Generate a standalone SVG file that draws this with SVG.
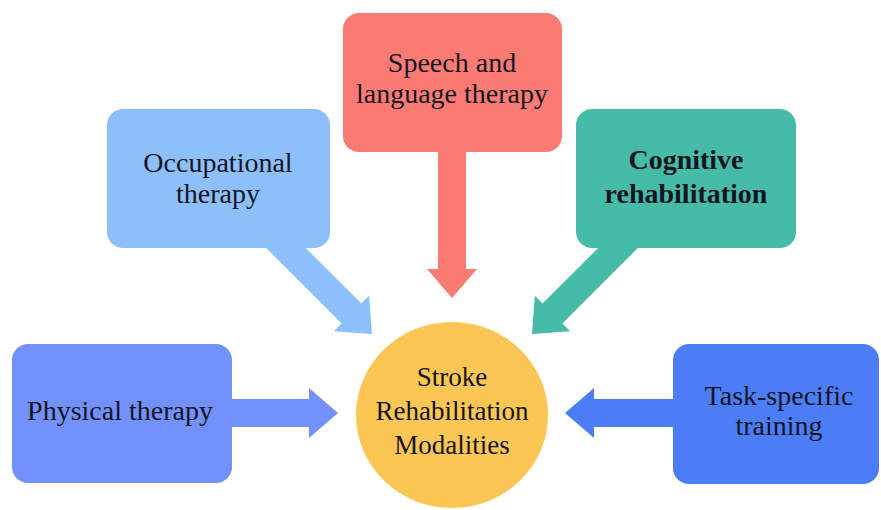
<svg xmlns="http://www.w3.org/2000/svg" width="881" height="510" viewBox="0 0 881 510">
<style>
  text { font-family: "Liberation Serif", "Times New Roman", serif; font-size: 28px; fill: #15151f; text-anchor: middle; }
  .bold { font-weight: bold; }
  .c { font-size: 27px; }
  .occ { fill: #8dbffa; }
  .sp { fill: #fa7b74; }
  .cog { fill: #46bba8; }
  .phy { fill: #7291fa; }
  .task { fill: #4b7ef6; }
</style>
<defs>
  <polygon id="arrowLong" points="-165,-14 -29,-14 -29,-25 0,0 -29,25 -29,14 -165,14"/>
</defs>
<rect width="881" height="510" fill="#ffffff"/>
<g id="connectors">
  <use href="#arrowLong" class="occ" transform="translate(372,334) rotate(45)"/>
  <use href="#arrowLong" class="sp" transform="translate(452,298) rotate(90)"/>
  <use href="#arrowLong" class="cog" transform="translate(532,334) rotate(135)"/>
  <use href="#arrowLong" class="phy" transform="translate(338,413)"/>
  <use href="#arrowLong" class="task" transform="translate(565,413) rotate(180)"/>
</g>
<g id="occupational">
  <rect class="occ" x="107" y="109" width="223" height="139" rx="16"/>
  <text x="218" y="172">Occupational</text>
  <text x="218" y="203">therapy</text>
</g>
<g id="speech">
  <rect class="sp" x="343" y="13" width="219" height="139" rx="16"/>
  <text x="452" y="72">Speech and</text>
  <text x="452" y="103">language therapy</text>
</g>
<g id="cognitive">
  <rect class="cog" x="576" y="109" width="220" height="139" rx="16"/>
  <text class="bold" x="686" y="169">Cognitive</text>
  <text class="bold" x="686" y="203">rehabilitation</text>
</g>
<g id="physical">
  <rect class="phy" x="12" y="344" width="220" height="139" rx="16"/>
  <text x="120" y="420">Physical therapy</text>
</g>
<g id="task">
  <rect class="task" x="673" y="344" width="206" height="140" rx="16"/>
  <text x="779" y="405">Task-specific</text>
  <text x="779" y="435">training</text>
</g>
<g id="center">
  <ellipse cx="452" cy="415" rx="96" ry="93" fill="#fbc653"/>
  <text class="c" x="452" y="386">Stroke</text>
  <text class="c" x="452" y="420">Rehabilitation</text>
  <text class="c" x="452" y="454">Modalities</text>
</g>
</svg>
